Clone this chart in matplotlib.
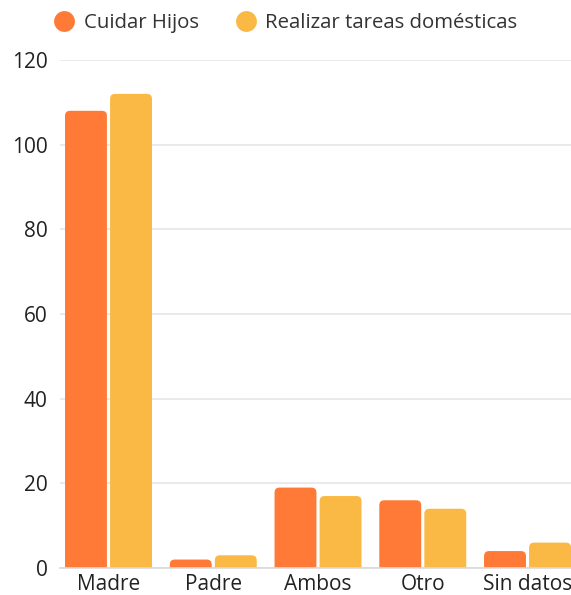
import matplotlib.pyplot as plt
import numpy as np
from matplotlib.patches import FancyBboxPatch
from matplotlib.lines import Line2D

categories = ['Madre', 'Padre', 'Ambos', 'Otro', 'Sin datos']
cuidar_hijos = [108, 2, 19, 16, 4]
tareas_domesticas = [112, 3, 17, 14, 6]
series_names = ['Cuidar Hijos', 'Realizar tareas domésticas']
colors = ['#FE7A36', '#F9B944']

plt.rcParams['font.family'] = ['Open Sans', 'DejaVu Sans']

fig = plt.figure(figsize=(5.71, 5.95), dpi=100)
ax = fig.add_axes([60 / 571, 1 - 568 / 595, 511 / 571, 508 / 595])

x = np.arange(len(categories))
w = 0.40
off = 0.215

bars1 = ax.bar(x - off, cuidar_hijos, w, color=colors[0])
bars2 = ax.bar(x + off, tareas_domesticas, w, color=colors[1])

# swap plain rectangles for rounded-top boxes (bottom hidden below y=0)
r = 0.048
aspect = 24.5
for bars, c in ((bars1, colors[0]), (bars2, colors[1])):
    for b in bars:
        bx, bw, bh = b.get_x(), b.get_width(), b.get_height()
        p = FancyBboxPatch((bx, -3), bw, bh + 3,
                           boxstyle='round,pad=0,rounding_size=%f' % r,
                           mutation_aspect=aspect, facecolor=c,
                           edgecolor='none', zorder=3)
        ax.add_patch(p)
        b.remove()

ax.set_xlim(-0.463, 4.415)
ax.set_ylim(0, 120)
ax.set_yticks([0, 20, 40, 60, 80, 100, 120])
ax.set_xticks(x)
ax.set_xticklabels(categories)
ax.tick_params(axis='both', length=0, labelsize=15, colors='#222222')
ax.tick_params(axis='y', pad=9)
ax.tick_params(axis='x', pad=4)

ax.grid(axis='y', color='#e6e6e6', linewidth=1.2, zorder=0)
ax.set_axisbelow(True)
for s in ['top', 'right', 'left']:
    ax.spines[s].set_visible(False)
ax.spines['bottom'].set_color('#d9d9d9')
ax.spines['bottom'].set_linewidth(1.2)
ax.spines['bottom'].set_zorder(4)

handles = [Line2D([], [], marker='o', linestyle='none', markersize=15,
                  markerfacecolor=c, markeredgecolor='none') for c in colors]
fig.legend(handles, series_names, loc='center left',
           bbox_to_anchor=(54 / 571, 1 - 23 / 595), ncol=2, frameon=False,
           fontsize=14.7, handlelength=1.0, handletextpad=0.45,
           columnspacing=1.8, labelcolor='#333333', borderaxespad=0,
           borderpad=0)

fig.savefig('out.png', dpi=100, facecolor='white')
